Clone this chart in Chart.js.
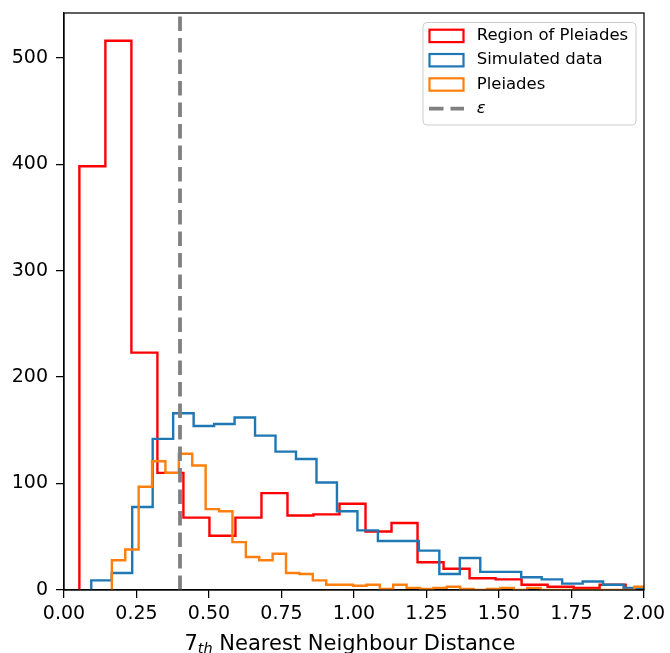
<!DOCTYPE html>
<html>
<head>
<meta charset="utf-8">
<script src="https://cdn.jsdelivr.net/npm/chart.js@4.4.0/dist/chart.umd.min.js"></script>
<style>
  html, body { margin: 0; padding: 0; background: #fff; }
  #wrap { width: 670px; height: 653px; }
</style>
</head>
<body>
<div id="wrap"><canvas id="histChart" width="670" height="653"></canvas></div>
<script>
// 7th nearest neighbour distance histograms, counts
const regionStart = 0.053;
const regionWidth = 0.0897;
const regionCounts = [398, 516, 223, 110, 68, 51, 68, 91, 70, 71, 81, 55, 63, 26, 20, 11, 10, 5, 3, 2, 5];

const simStart = 0.094;
const simWidth = 0.0706;
const simCounts = [9, 16, 78, 142, 166, 154, 156, 162, 145, 130, 123, 101, 74, 56, 46, 46, 37, 15, 30, 17, 17, 12, 10, 6, 8, 5, 2];

const pleiadesStart = 0.165;
const pleiadesWidth = 0.0462;
const pleiadesCounts = [28, 38, 97, 121, 110, 128, 117, 76, 74, 45, 31, 28, 34, 16, 15, 9, 5, 5, 4, 5, 1, 5, 2, 1, 2, 3, 1, 0, 1, 2, 0, 2, 0, 0, 0, 0, 0, 0, 0, 3];

const epsilon = 0.40;

const xTicks = [0, 0.25, 0.5, 0.75, 1.0, 1.25, 1.5, 1.75, 2.0];
const yTicks = [0, 100, 200, 300, 400, 500];
const yMax = 542;

// outline of a step histogram: up at the first edge, across each bin, down at the last edge
function stepPoints(start, width, counts) {
  const pts = [{ x: start, y: 0 }];
  counts.forEach((c, i) => pts.push({ x: start + i * width, y: c }));
  pts.push({ x: start + counts.length * width, y: 0 });
  return pts;
}

const FONT = "'DejaVu Sans', sans-serif";

const frameAndLabels = {
  id: "frameAndLabels",
  afterDraw(chart) {
    const ctx = chart.ctx;
    const a = chart.chartArea;
    ctx.save();

    // all four spines
    ctx.strokeStyle = "#000";
    ctx.lineWidth = 1.25;
    ctx.setLineDash([]);
    ctx.strokeRect(a.left, a.top, a.right - a.left, a.bottom - a.top);

    // legend box
    const bx = 423, by = 22.5, bw = 213, bh = 102.5, r = 4;
    ctx.beginPath();
    ctx.moveTo(bx + r, by);
    ctx.arcTo(bx + bw, by, bx + bw, by + bh, r);
    ctx.arcTo(bx + bw, by + bh, bx, by + bh, r);
    ctx.arcTo(bx, by + bh, bx, by, r);
    ctx.arcTo(bx, by, bx + bw, by, r);
    ctx.closePath();
    ctx.fillStyle = "rgba(255,255,255,0.8)";
    ctx.fill();
    ctx.strokeStyle = "#cccccc";
    ctx.lineWidth = 1;
    ctx.stroke();

    chart.data.datasets.forEach((ds, i) => {
      const yc = 35.7 + i * 24.3;
      ctx.strokeStyle = ds.borderColor;
      if (ds.borderDash) {
        ctx.lineWidth = ds.borderWidth;
        ctx.setLineDash(ds.borderDash);
        ctx.beginPath();
        ctx.moveTo(429, yc);
        ctx.lineTo(464, yc);
        ctx.stroke();
        ctx.setLineDash([]);
        ctx.font = "italic 16.5px " + FONT;
      } else {
        ctx.lineWidth = 2.2;
        ctx.strokeRect(429.5, yc - 6, 34, 12.4);
        ctx.font = "16.5px " + FONT;
      }
      ctx.fillStyle = "#000";
      ctx.textBaseline = "middle";
      ctx.textAlign = "left";
      ctx.fillText(ds.label, 476.7, yc);
    });

    // x axis title with subscript
    const main = "21px " + FONT;
    const sub = "italic 14.5px " + FONT;
    ctx.font = main;
    const w7 = ctx.measureText("7").width;
    const wRest = ctx.measureText(" Nearest Neighbour Distance").width;
    ctx.font = sub;
    const wTh = ctx.measureText("th").width;
    const total = w7 + wTh + wRest;
    let x = (a.left + a.right) / 2 - 4 - total / 2;
    const base = 649.5;
    ctx.fillStyle = "#000";
    ctx.textBaseline = "alphabetic";
    ctx.textAlign = "left";
    ctx.font = main;
    ctx.fillText("7", x, base);
    x += w7;
    ctx.font = sub;
    ctx.fillText("th", x, base + 3);
    x += wTh;
    ctx.font = main;
    ctx.fillText(" Nearest Neighbour Distance", x, base);

    ctx.restore();
  },
};

const ctx = document.getElementById("histChart").getContext("2d");

const histChart = new Chart(ctx, {
  type: "line",
  data: {
    datasets: [
      {
        label: "Region of Pleiades",
        data: stepPoints(regionStart, regionWidth, regionCounts),
        borderColor: "#ff0000",
        borderWidth: 2.4,
        stepped: "before",
        order: 4,
      },
      {
        label: "Simulated data",
        data: stepPoints(simStart, simWidth, simCounts),
        borderColor: "#1f77b4",
        borderWidth: 2.4,
        stepped: "before",
        order: 3,
      },
      {
        label: "Pleiades",
        data: stepPoints(pleiadesStart, pleiadesWidth, pleiadesCounts),
        borderColor: "#ff7f0e",
        borderWidth: 2.4,
        stepped: "before",
        order: 2,
      },
      {
        label: "ε",
        data: [
          { x: epsilon, y: 0 },
          { x: epsilon, y: yMax },
        ],
        borderColor: "#808080",
        borderWidth: 3.8,
        borderDash: [14.5, 7],
        order: 1,
      },
    ],
  },
  options: {
    responsive: false,
    animation: false,
    events: [],
    elements: {
      point: { radius: 0 },
      line: { fill: false, backgroundColor: "transparent", tension: 0 },
    },
    layout: { padding: { top: 13, right: 26, left: 0, bottom: 0 } },
    plugins: {
      legend: { display: false },
      tooltip: { enabled: false },
    },
    scales: {
      x: {
        type: "linear",
        min: 0,
        max: 2,
        afterBuildTicks: (s) => {
          s.ticks = xTicks.map((v) => ({ value: v }));
        },
        afterFit: (s) => {
          s.height = 63;
          s.paddingLeft = 0;
          s.paddingRight = 0;
        },
        ticks: {
          callback: (v) => Number(v).toFixed(2),
          font: { family: FONT, size: 19 },
          color: "#000",
          padding: 5,
          maxRotation: 0,
          autoSkip: false,
        },
        grid: {
          drawOnChartArea: false,
          drawTicks: true,
          tickLength: 8,
          color: "#000",
          lineWidth: 1.25,
        },
        border: { color: "#000", width: 1.25 },
      },
      y: {
        type: "linear",
        min: 0,
        max: yMax,
        afterBuildTicks: (s) => {
          s.ticks = yTicks.map((v) => ({ value: v }));
        },
        afterFit: (s) => {
          s.width = 64;
          s.paddingTop = 0;
          s.paddingBottom = 0;
        },
        ticks: {
          font: { family: FONT, size: 19 },
          color: "#000",
          padding: 8,
        },
        grid: {
          drawOnChartArea: false,
          drawTicks: true,
          tickLength: 8,
          color: "#000",
          lineWidth: 1.25,
        },
        border: { color: "#000", width: 1.25 },
      },
    },
  },
  plugins: [frameAndLabels],
});
</script>
</body>
</html>
